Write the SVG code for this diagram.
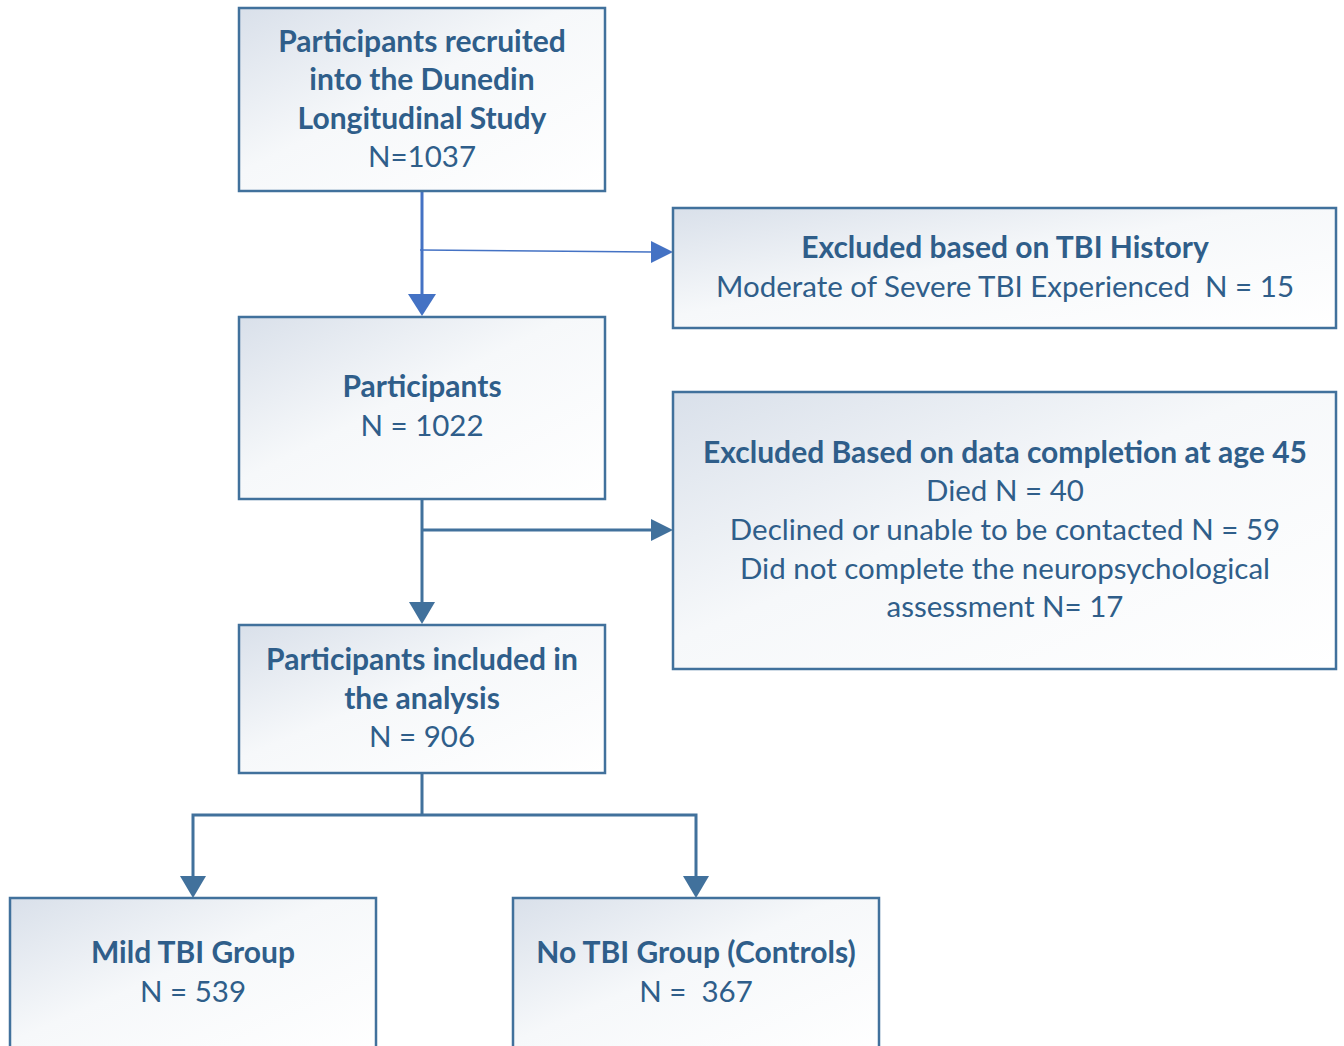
<svg xmlns="http://www.w3.org/2000/svg" width="1344" height="1046" viewBox="0 0 1344 1046">
<style>
.box{fill:url(#g);stroke:#41719c;stroke-width:2.5}
text{font-family:Lato,"Open Sans","Liberation Sans",sans-serif;font-size:29.5px;fill:#2f5e8a;text-anchor:middle}
.b{font-weight:bold;font-size:30px}
.c{fill:none;stroke:#41719c;stroke-width:3}
</style>
<defs>
<linearGradient id="g" x1="0" y1="0" x2="1" y2="1">
<stop offset="0" stop-color="#d9e0ea"/>
<stop offset="0.45" stop-color="#f6f8fa"/>
<stop offset="1" stop-color="#ffffff"/>
</linearGradient>
</defs>
<rect width="1344" height="1046" fill="#ffffff"/>
<g id="connectors">
<path d="M422,191V296" style="fill:none;stroke:#4472c4;stroke-width:3"/>
<path d="M408,294L436,294L422,316z" fill="#4472c4"/>
<path d="M420,250L652,252" style="fill:none;stroke:#4472c4;stroke-width:1.5"/>
<path d="M651,241L673,252L651,263z" fill="#4472c4"/>
<path class="c" d="M422,499V604"/>
<path d="M409,602L435,602L422,624z" fill="#41719c"/>
<path class="c" d="M422,530H652"/>
<path d="M651,519L673,530L651,541z" fill="#41719c"/>
<path class="c" d="M422,773V815H193V878M422,815H696V878"/>
<path d="M180,876L206,876L193,898z" fill="#41719c"/>
<path d="M683,876L709,876L696,898z" fill="#41719c"/>
</g>
<g id="n1">
<rect class="box" x="239" y="8" width="366" height="183"/>
<text class="b" x="422" y="52">Participants recruited</text>
<text class="b" x="422" y="90">into the Dunedin</text>
<text class="b" x="422" y="129">Longitudinal Study</text>
<text x="422" y="167">N=1037</text>
</g>
<g id="n2">
<rect class="box" x="673" y="208" width="663" height="120"/>
<text class="b" x="1005" y="258">Excluded based on TBI History</text>
<text x="1005" y="297" xml:space="preserve">Moderate of Severe TBI Experienced  N = 15</text>
</g>
<g id="n3">
<rect class="box" x="239" y="317" width="366" height="182"/>
<text class="b" x="422" y="397">Participants</text>
<text x="422" y="436">N = 1022</text>
</g>
<g id="n4">
<rect class="box" x="673" y="392" width="663" height="277"/>
<text class="b" x="1005" y="463">Excluded Based on data completion at age 45</text>
<text x="1005" y="501">Died N = 40</text>
<text x="1005" y="540">Declined or unable to be contacted N = 59</text>
<text x="1005" y="579">Did not complete the neuropsychological</text>
<text x="1005" y="617">assessment N= 17</text>
</g>
<g id="n5">
<rect class="box" x="239" y="625" width="366" height="148"/>
<text class="b" x="422" y="670">Participants included in</text>
<text class="b" x="422" y="709">the analysis</text>
<text x="422" y="747">N = 906</text>
</g>
<g id="n6">
<rect class="box" x="10" y="898" width="366" height="160"/>
<text class="b" x="193" y="963">Mild TBI Group</text>
<text x="193" y="1002">N = 539</text>
</g>
<g id="n7">
<rect class="box" x="513" y="898" width="366" height="160"/>
<text class="b" x="696" y="963">No TBI Group (Controls)</text>
<text x="696" y="1002" xml:space="preserve">N =  367</text>
</g>
</svg>
